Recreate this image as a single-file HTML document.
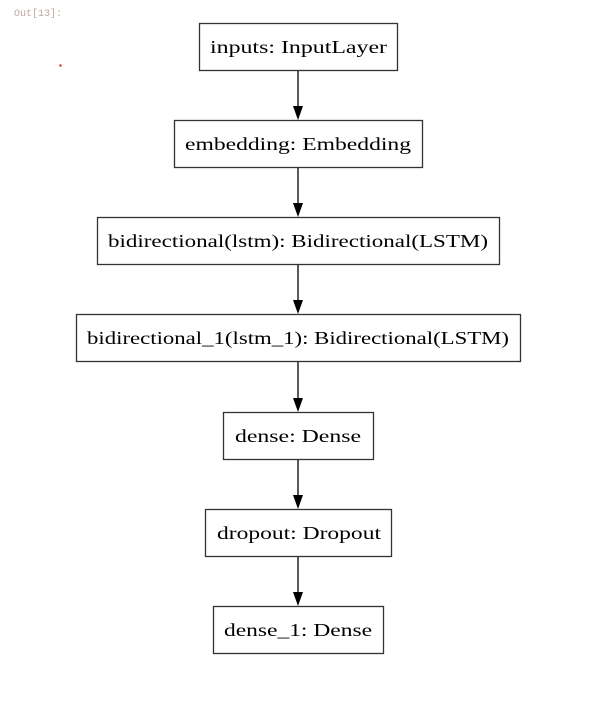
<!DOCTYPE html>
<html><head><meta charset="utf-8"><style>
html,body{margin:0;padding:0;background:#fff;width:595px;height:717px;overflow:hidden}
</style></head><body>
<svg width="595" height="717" xmlns="http://www.w3.org/2000/svg">
<text x="14" y="16" font-family="Liberation Mono, monospace" font-size="10" fill="#c0a8a0">Out[13]:</text>
<rect x="59.5" y="64.5" width="2" height="2" fill="#e00"/>
<g fill="#fff" stroke="#333" stroke-width="1.3">
<rect x="199.5" y="23.5" width="198" height="47"/>
<rect x="174.5" y="120.5" width="248" height="47"/>
<rect x="97.5" y="217.5" width="402" height="47"/>
<rect x="76.5" y="314.5" width="444" height="47"/>
<rect x="223.5" y="412.5" width="150" height="47"/>
<rect x="205.5" y="509.5" width="186" height="47"/>
<rect x="213.5" y="606.5" width="170" height="47"/>
</g>
<g stroke="#000" stroke-width="1.3">
<line x1="298" y1="71" x2="298" y2="108"/>
<line x1="298" y1="168" x2="298" y2="205"/>
<line x1="298" y1="265" x2="298" y2="302"/>
<line x1="298" y1="362" x2="298" y2="400"/>
<line x1="298" y1="460" x2="298" y2="497"/>
<line x1="298" y1="557" x2="298" y2="594"/>
</g>
<g fill="#000">
<polygon points="293,106 303,106 298,120"/>
<polygon points="293,203 303,203 298,217"/>
<polygon points="293,300 303,300 298,314"/>
<polygon points="293,398 303,398 298,412"/>
<polygon points="293,495 303,495 298,509"/>
<polygon points="293,592 303,592 298,606"/>
</g>
<g font-family="Liberation Serif, serif" font-size="18" fill="#000" lengthAdjust="spacingAndGlyphs">
<text x="210" y="53" textLength="177" lengthAdjust="spacingAndGlyphs">inputs: InputLayer</text>
<text x="185" y="150" textLength="226" lengthAdjust="spacingAndGlyphs">embedding: Embedding</text>
<text x="108" y="247" textLength="380" lengthAdjust="spacingAndGlyphs">bidirectional(lstm): Bidirectional(LSTM)</text>
<text x="87" y="344" textLength="422" lengthAdjust="spacingAndGlyphs">bidirectional_1(lstm_1): Bidirectional(LSTM)</text>
<text x="235" y="442" textLength="126" lengthAdjust="spacingAndGlyphs">dense: Dense</text>
<text x="217" y="539" textLength="164" lengthAdjust="spacingAndGlyphs">dropout: Dropout</text>
<text x="224" y="636" textLength="148" lengthAdjust="spacingAndGlyphs">dense_1: Dense</text>
</g>
</svg>
</body></html>
